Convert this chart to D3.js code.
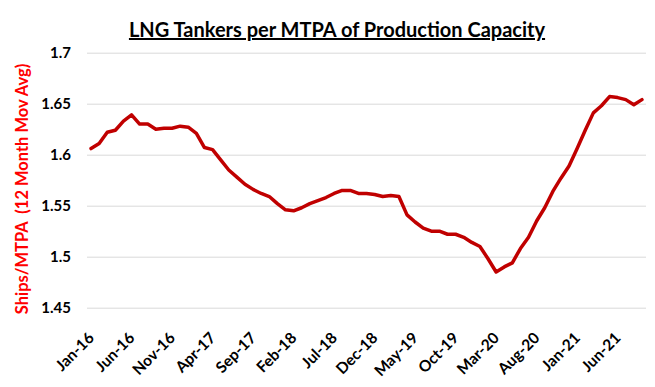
<!DOCTYPE html>
<html>
<head>
<meta charset="utf-8">
<script src="https://cdnjs.cloudflare.com/ajax/libs/d3/7.8.5/d3.min.js"></script>
<style>
  body { margin: 0; background: #fff; }
  text { font-family: Lato, "Open Sans", sans-serif; font-weight: bold; }
</style>
</head>
<body>
<div id="chart"></div>
<script>
// monthly categories Jan-16 .. Sep-21
var months = ["Jan","Feb","Mar","Apr","May","Jun","Jul","Aug","Sep","Oct","Nov","Dec"];
var categories = [];
for (var yr = 16; yr <= 21; yr++) {
  months.forEach(function(m, i) {
    if (yr == 21 && i > 8) return;
    categories.push(m + "-" + yr);
  });
}

// ships per MTPA, 12 month moving average
var shipsPerMtpa = [
  1.606, 1.611, 1.622, 1.624, 1.633, 1.639, 1.630, 1.630, 1.625, 1.626, 1.626, 1.628,
  1.627, 1.621, 1.607, 1.605, 1.595, 1.585, 1.578, 1.571, 1.566, 1.562, 1.559, 1.552,
  1.546, 1.545, 1.548, 1.552, 1.555, 1.558, 1.562, 1.565, 1.565, 1.562, 1.562, 1.561,
  1.559, 1.560, 1.559, 1.541, 1.534, 1.528, 1.525, 1.525, 1.522, 1.522, 1.519, 1.514,
  1.510, 1.498, 1.485, 1.490, 1.494, 1.508, 1.519, 1.535, 1.548, 1.564, 1.577, 1.589,
  1.606, 1.624, 1.641, 1.648, 1.657, 1.656, 1.654, 1.649, 1.654
];

var yTicks = [1.45, 1.5, 1.55, 1.6, 1.65, 1.7];

var width = 655, height = 387;
var plotLeft = 87, plotRight = 646, plotTop = 52.7, plotBottom = 307.7;

var svg = d3.select("#chart")
  .append("svg")
  .attr("width", width)
  .attr("height", height);

var x = d3.scaleBand()
  .domain(categories)
  .range([plotLeft, plotRight]);

var y = d3.scaleLinear()
  .domain([1.45, 1.7])
  .range([plotBottom, plotTop]);

// gridlines + y labels
svg.append("g")
  .attr("transform", "translate(" + plotLeft + ",0)")
  .call(d3.axisLeft(y).tickValues(yTicks).tickSize(-(plotRight - plotLeft)).tickPadding(16)
    .tickFormat(function(d) { return d3.format("")(+d.toFixed(2)); }))
  .call(function(g) {
    g.select(".domain").remove();
    g.selectAll(".tick line").attr("stroke", "#d9d9d9").attr("stroke-width", 1);
    g.selectAll(".tick text").attr("fill", "#000").style("font-size", "15px");
  });

// x labels, every 5th month
var xTicks = categories.filter(function(d, i) { return i % 5 == 0; });

svg.append("g")
  .selectAll("text")
  .data(xTicks)
  .join("text")
  .attr("transform", function(d) {
    return "translate(" + (x(d) + x.bandwidth() / 2 + 4) + ",339) rotate(-45)";
  })
  .attr("text-anchor", "end")
  .style("font-size", "15.5px")
  .attr("fill", "#000")
  .text(function(d) { return d; });

// the line
var line = d3.line()
  .x(function(d, i) { return x(categories[i]) + x.bandwidth() / 2; })
  .y(function(d) { return y(d); });

svg.append("path")
  .datum(shipsPerMtpa)
  .attr("d", line)
  .attr("fill", "none")
  .attr("stroke", "#c00000")
  .attr("stroke-width", 3.5)
  .attr("stroke-linejoin", "round")
  .attr("stroke-linecap", "round");

// title
svg.append("text")
  .attr("x", 337)
  .attr("y", 37)
  .attr("text-anchor", "middle")
  .style("font-size", "20px")
  .style("text-decoration", "underline")
  .attr("fill", "#000")
  .text("LNG Tankers per MTPA of Production Capacity");

// y axis title
svg.append("text")
  .attr("transform", "translate(28,189) rotate(-90)")
  .attr("text-anchor", "middle")
  .style("font-size", "16.5px")
  .attr("fill", "#ff0000")
  .attr("xml:space", "preserve")
  .text("Ships/MTPA  (12 Month Mov Avg)");
</script>
</body>
</html>
